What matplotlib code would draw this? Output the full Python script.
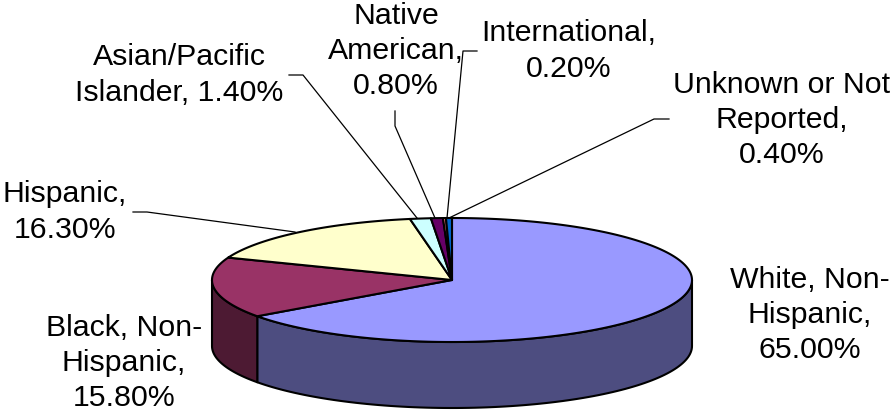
import numpy as np
import matplotlib
matplotlib.use("Agg")
import matplotlib.pyplot as plt

labels = ["White, Non-\nHispanic,\n65.00%", "Black, Non-\nHispanic,\n15.80%",
          "Hispanic,\n16.30%", "Asian/Pacific\nIslander, 1.40%",
          "Native\nAmerican,\n0.80%", "International,\n0.20%",
          "Unknown or Not\nReported,\n0.40%"]
values = [65.0, 15.8, 16.3, 1.4, 0.8, 0.2, 0.4]
top_colors = ["#9999FF", "#993366", "#FFFFCC", "#CCFFFF", "#660066", "#FF8080", "#0066CC"]
side_colors = ["#4D4D80", "#4D1A33", "#80805F", "#668080", "#330033", "#804040", "#003366"]

plt.rcParams["font.family"] = ["Liberation Sans", "DejaVu Sans"]

# ellipse of the pie top, in pixels
cx, cy = 452, 280
rx, ry = 240, 62
depth = 66

label_pos = [(810, 315), (124, 363), (65, 212), (179, 75), (396, 51), (569, 51), (782, 120)]
leaders = [None, None,
           [(133, 212), (147, 212), (295, 232)],
           [(289, 75), (303, 75), (417, 218)],
           [(395, 111), (395, 126), (435, 218)],
           [(477, 51), (463, 51), (447, 218)],
           [(669, 119), (654, 119), (449, 218)]]


def ell(a):
    # a is clockwise from straight up, in degrees
    r = np.radians(a)
    return cx + rx * np.sin(r), cy - ry * np.cos(r)


fig = plt.figure(figsize=(8.93, 4.12), dpi=100)
ax = fig.add_axes([0, 0, 1, 1])
ax.set_xlim(0, 893)
ax.set_ylim(412, 0)
ax.axis("off")

edges = np.cumsum([0] + values) / sum(values) * 360

# side wall first, only the front half of the ellipse shows
for i in range(len(values)):
    a0, a1 = max(edges[i], 90), min(edges[i + 1], 270)
    if a1 <= a0:
        continue
    t = np.linspace(a0, a1, 100)
    xs, ys = ell(t)
    px = np.r_[xs, xs[::-1]]
    py = np.r_[ys, ys[::-1] + depth]
    ax.fill(px, py, fc=side_colors[i], ec="black", lw=1.5, joinstyle="round", zorder=2)

# top face
for i in range(len(values)):
    t = np.linspace(edges[i], edges[i + 1], 200)
    xs, ys = ell(t)
    ax.fill(np.r_[cx, xs], np.r_[cy, ys], fc=top_colors[i], ec="black", lw=1.5,
            joinstyle="round", zorder=3)

for pts in leaders:
    if pts is None:
        continue
    ax.plot([p[0] for p in pts], [p[1] for p in pts], color="black", lw=0.9, zorder=4)

for s, (x, y) in zip(labels, label_pos):
    ax.text(x, y, s, ha="center", va="center", fontsize=21.8, linespacing=1.32, zorder=5)

fig.savefig("out.png", dpi=100)
